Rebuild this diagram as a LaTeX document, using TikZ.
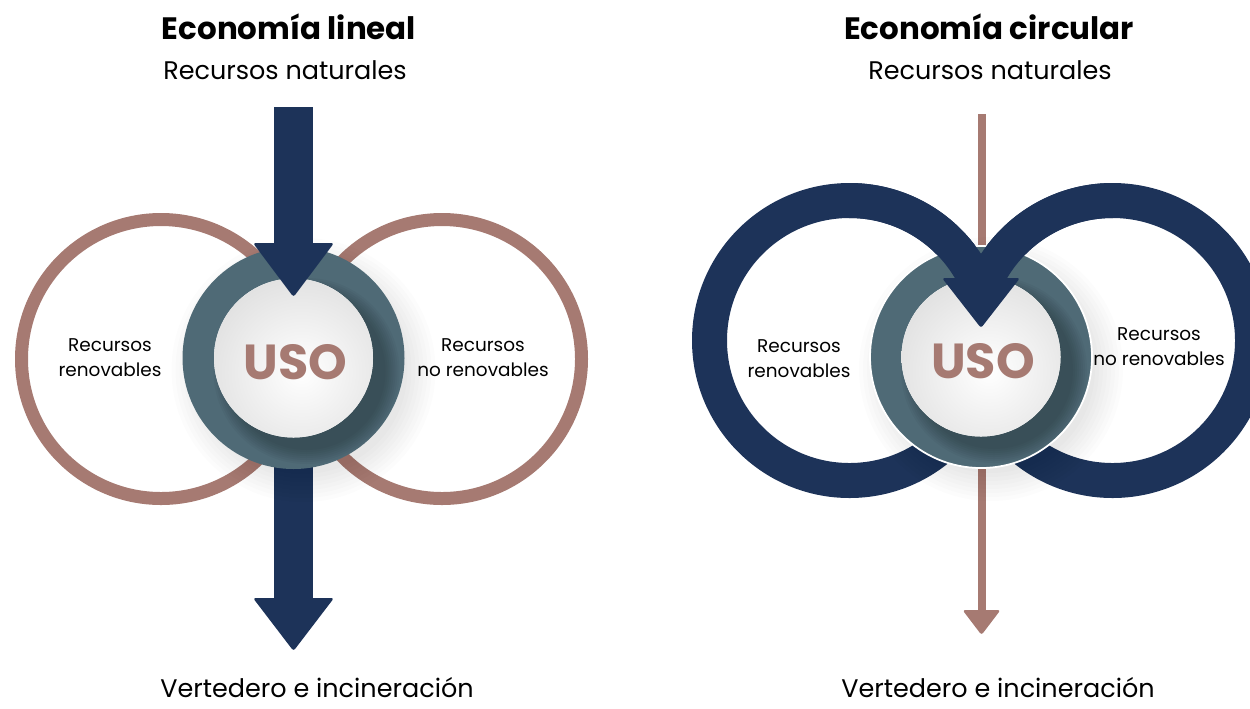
\documentclass[tikz,border=0pt]{standalone}
\usepackage{fontspec}
\setmainfont{Poppins}
\usepackage{xcolor}
\usepackage{tikz}
\usetikzlibrary{calc,positioning}

\definecolor{navy}{RGB}{29,51,89}
\definecolor{usoteal}{RGB}{79,106,118}
\definecolor{rosa}{RGB}{166,122,114}

% disco central con sombra
\newcommand{\discouso}[1]{%
	\foreach \k in {0,...,7} \fill[black,opacity=0.012] (#1) ++(10,12) circle ({104+\k*4});
	\fill[usoteal] (#1) circle (111);
	\begin{scope}
		\clip (#1) circle (111);
		\foreach \k in {0,...,7} \fill[black,opacity=0.03] (#1) ++(13,13) circle ({79+\k*2});
	\end{scope}
	\fill[white] (#1) circle (79.5);
	\begin{scope}
		\clip (#1) circle (79.5);
		\shade[inner color=white,outer color=black!12] (#1) ++(8,14) circle (100);
	\end{scope}
}

\begin{document}
\begin{tikzpicture}[x=0.02cm,y=-0.02cm,
		titulo/.style={font=\fontsize{17.6}{21}\selectfont\bfseries},
		subtitulo/.style={font=\fontsize{14.5}{18}\selectfont,inner sep=0pt},
		etiqueta/.style={font=\fontsize{10.5}{14.2}\selectfont,align=center},
		usotexto/.style={font=\fontsize{28}{30}\selectfont\bfseries,text=rosa},
		anillorosa/.style={draw=rosa,line width=0.26cm},
		anilloazul/.style={draw=navy,line width=0.7cm},
		punta/.style={rounded corners=1.5pt}]
	\useasboundingbox (0,0) rectangle (1250,708);

	% economia lineal
	\coordinate (usoA) at (293.5,358);
	\coordinate (izqA) at (161,359);
	\coordinate (derA) at (442,359);
	\draw[anillorosa] (izqA) circle (139.5);
	\draw[anillorosa] (derA) circle (139.5);
	\fill[navy] ($(usoA)+(-19.5,70)$) rectangle ($(usoA)+(19.5,242)$);
	\fill[navy,punta] ($(usoA)+(-40.5,240)$) -- ($(usoA)+(40.5,240)$) -- ($(usoA)+(0,293)$) -- cycle;
	\discouso{usoA}
	\fill[navy] ($(usoA)+(-19.5,-251)$) rectangle ($(usoA)+(19.5,-113)$);
	\fill[navy,punta] ($(usoA)+(-40.5,-115)$) -- ($(usoA)+(40.5,-115)$) -- ($(usoA)+(0,-61)$) -- cycle;

	\node[titulo] (tituloA) at (289,27) {Economía lineal};
	\node[subtitulo] (fuenteA) at (285,70) {Recursos naturales};
	\node[subtitulo] (destinoA) at (317,688) {Vertedero e incineración};
	\node[etiqueta] (renovA) at (110,358) {Recursos\\renovables};
	\node[etiqueta] (norenovA) at (483,358) {Recursos\\no renovables};
	\node[usotexto] (usoAt) at ($(usoA)+(2,4)$) {USO};

	% economia circular
	\coordinate (usoC) at (981,357);
	\coordinate (izqC) at (849.5,340.5);
	\coordinate (derC) at (1112.5,340.5);
	\coordinate (entradaC) at (981.5,114);
	\coordinate (salidaC) at (981.5,612);
	\draw[rosa,line width=0.16cm] (entradaC) -- (salidaC);
	\fill[rosa,punta] ($(salidaC)+(-19,-2)$) -- ($(salidaC)+(19,-2)$) -- ($(salidaC)+(0,23)$) -- cycle;
	\draw[anilloazul] (izqC) circle (140);
	\draw[anilloazul] (derC) circle (140);
	\discouso{usoC}
	\draw[white,line width=1pt] (usoC) circle (111);
	\draw[anilloazul] (izqC) ++(-90:140) arc[start angle=-90,end angle=-20,radius=140];
	\draw[anilloazul] (derC) ++(-90:140) arc[start angle=-90,end angle=-160,radius=140];
	\fill[navy,punta] ($(usoC)+(-39,-79)$) -- ($(usoC)+(39,-79)$) -- ($(usoC)+(0,-29)$) -- cycle;

	\node[titulo] (tituloC) at (989,27) {Economía circular};
	\node[subtitulo] (fuenteC) at (990,70) {Recursos naturales};
	\node[subtitulo] (destinoC) at (998,688) {Vertedero e incineración};
	\node[etiqueta] (renovC) at (799,359) {Recursos\\renovables};
	\node[etiqueta] (norenovC) at (1159,347) {Recursos\\no renovables};
	\node[usotexto] (usoCt) at ($(usoC)+(2,4)$) {USO};
\end{tikzpicture}
\end{document}
